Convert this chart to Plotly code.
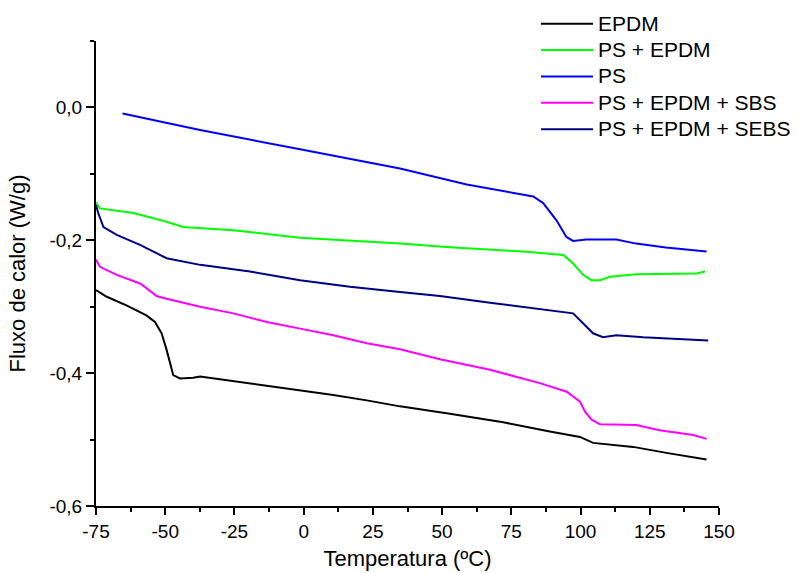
import plotly.graph_objects as go

# ---- data (Temperatura ºC, Fluxo de calor W/g) ----
epdm_x = [-75, -71.1, -64.0, -56.8, -53.7, -51.3, -49.5, -48.3, -47.1, -44.7, -39.9, -37.4, -25.4, -13.3, -1.3, 10.7, 22.8, 34.8, 52.8, 70.9, 88.9, 99.8, 104.5, 119.0, 131.0, 145.5]
epdm_y = [-0.275, -0.285, -0.298, -0.313, -0.323, -0.340, -0.365, -0.385, -0.403, -0.408, -0.407, -0.405, -0.412, -0.418, -0.426, -0.433, -0.441, -0.450, -0.461, -0.473, -0.488, -0.496, -0.505, -0.511, -0.520, -0.530]

ps_epdm_x = [-75, -73.6, -61.5, -49.5, -43.5, -25.4, -1.3, 34.8, 54.0, 79.3, 93.8, 97.3, 100.9, 103.9, 107.0, 110.6, 120.1, 141.9, 144.9]
ps_epdm_y = [-0.143, -0.152, -0.159, -0.172, -0.180, -0.185, -0.196, -0.205, -0.211, -0.217, -0.222, -0.235, -0.252, -0.260, -0.260, -0.255, -0.251, -0.250, -0.247]

ps_x = [-65.4, -37.4, -1.3, 34.8, 58.9, 82.9, 86.5, 91.3, 94.9, 97.3, 102.1, 112.9, 120.1, 130.8, 145.5]
ps_y = [-0.009, -0.034, -0.063, -0.092, -0.116, -0.134, -0.144, -0.170, -0.195, -0.201, -0.199, -0.199, -0.205, -0.211, -0.217]

sbs_x = [-75, -73.6, -67.5, -59.1, -56.8, -53.1, -49.5, -37.4, -25.4, -13.3, -1.3, 10.7, 22.8, 34.8, 49.2, 67.3, 85.3, 95.0, 99.8, 101.6, 104.0, 107.0, 120.1, 128.5, 140.7, 145.5]
sbs_y = [-0.229, -0.240, -0.252, -0.265, -0.272, -0.284, -0.288, -0.300, -0.310, -0.323, -0.333, -0.343, -0.355, -0.364, -0.379, -0.395, -0.415, -0.428, -0.443, -0.458, -0.470, -0.477, -0.478, -0.486, -0.493, -0.499]

sebs_x = [-75, -74.2, -72.3, -67.5, -59.1, -49.5, -37.4, -19.4, -1.3, 16.7, 34.8, 49.2, 67.3, 85.3, 97.3, 100.9, 104.5, 108.1, 112.9, 122.6, 134.6, 146.1]
sebs_y = [-0.147, -0.159, -0.180, -0.192, -0.207, -0.227, -0.237, -0.247, -0.260, -0.270, -0.278, -0.284, -0.294, -0.304, -0.310, -0.325, -0.340, -0.346, -0.343, -0.346, -0.349, -0.351]

series_names = ["EPDM", "PS + EPDM", "PS", "PS + EPDM + SBS", "PS + EPDM + SEBS"]
series_colors = ["#000000", "#00ff00", "#0000ff", "#ff00ff", "#000080"]

x_tickvals = [-75, -50, -25, 0, 25, 50, 75, 100, 125, 150]
x_ticktext = ["-75", "-50", "-25", "0", "25", "50", "75", "100", "125", "150"]
y_tickvals = [-0.6, -0.4, -0.2, 0.0]
y_ticktext = ["-0,6", "-0,4", "-0,2", "0,0"]

FONT = "Arial, Liberation Sans, sans-serif"

fig = go.Figure()
for xs, ys, name, color in zip(
    [epdm_x, ps_epdm_x, ps_x, sbs_x, sebs_x],
    [epdm_y, ps_epdm_y, ps_y, sbs_y, sebs_y],
    series_names, series_colors):
    fig.add_trace(go.Scatter(x=xs, y=ys, mode="lines",
                             name='<span style="font-size:21px">' + name + '</span>',
                             line=dict(color=color, width=2)))

fig.update_layout(
    width=797, height=573,
    margin=dict(l=96, r=78, t=41, b=67, autoexpand=False),
    paper_bgcolor="white", plot_bgcolor="white",
    font=dict(family=FONT, color="black", size=19),
    showlegend=True,
    legend=dict(x=0.6725, y=0.9905, xref="container", yref="container",
                xanchor="left", yanchor="top",
                font=dict(family=FONT, size=18, color="black"),
                bgcolor="rgba(0,0,0,0)", borderwidth=0,
                itemwidth=52, tracegroupgap=0),
)

fig.update_xaxes(
    range=[-75, 150], showgrid=False, zeroline=False, automargin=False,
    showline=True, linecolor="black", linewidth=2,
    ticks="outside", ticklen=7, tickwidth=2, tickcolor="black",
    tickvals=x_tickvals, ticktext=x_ticktext,
    tickfont=dict(family=FONT, size=19, color="black"),
    minor=dict(ticks="outside", ticklen=4, tickwidth=2, tickcolor="black",
               tick0=-75, dtick=12.5),
    title=dict(text="Temperatura (ºC)", font=dict(family=FONT, size=22, color="black"),
               standoff=10),
)
fig.update_yaxes(
    range=[-0.6, 0.1], showgrid=False, zeroline=False, automargin=False,
    showline=True, linecolor="black", linewidth=2,
    ticks="outside", ticklen=8, tickwidth=2, tickcolor="black",
    tickvals=y_tickvals, ticktext=y_ticktext,
    tickfont=dict(family=FONT, size=19, color="black"),
    minor=dict(ticks="outside", ticklen=4, tickwidth=2, tickcolor="black",
               tick0=-0.6, dtick=0.1),
    title=dict(text="Fluxo de calor (W/g)", font=dict(family=FONT, size=22, color="black"),
               standoff=18),
)

fig.write_html("out.html")
